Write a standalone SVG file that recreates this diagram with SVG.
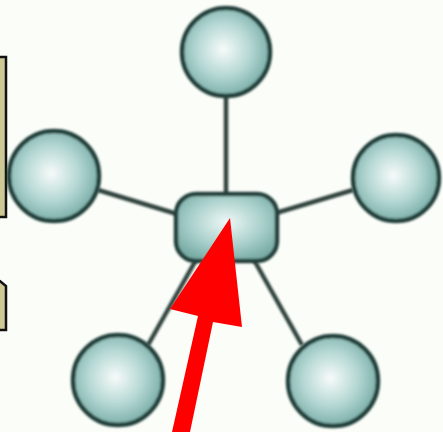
<svg xmlns="http://www.w3.org/2000/svg" width="443" height="432" viewBox="0 0 443 432">
<defs>
<radialGradient id="ball" cx="0.47" cy="0.47" r="0.55">
<stop offset="0" stop-color="#f7fbfa"/>
<stop offset="0.55" stop-color="#b5d8d4"/>
<stop offset="1" stop-color="#78aca6"/>
</radialGradient>
<radialGradient id="hub" cx="0.5" cy="0.42" r="0.6">
<stop offset="0" stop-color="#eef8f6"/>
<stop offset="0.6" stop-color="#a9d0cb"/>
<stop offset="1" stop-color="#7aaca6"/>
</radialGradient>
<filter id="soft" x="-10%" y="-10%" width="120%" height="120%"><feGaussianBlur stdDeviation="0.8"/></filter>
</defs>
<style>
.node{fill:url(#ball);stroke:#22403b;stroke-width:4.5}
.link{stroke:#33443f;stroke-width:4.5;fill:none}
.box{fill:#cdc895;stroke:#111;stroke-width:2.5}
</style>
<rect width="443" height="432" fill="#fbfdf9"/>
<g id="boxes">
<rect class="box" x="-3" y="57" width="9" height="160"/>
<path class="box" d="M-3,280 L0,281 L6,286 L6,330 L-3,330 Z"/>
</g>
<g id="connectors" filter="url(#soft)">
<line class="link" x1="226" y1="96" x2="226" y2="195"/>
<line class="link" x1="98" y1="190" x2="177" y2="214"/>
<line class="link" x1="353" y1="190" x2="276" y2="213"/>
<line class="link" x1="148" y1="345" x2="196" y2="260"/>
<line class="link" x1="302" y1="345" x2="254" y2="260"/>
</g>
<g id="hub-node" filter="url(#soft)"><rect x="176" y="194" width="101" height="67" rx="20" fill="url(#hub)" stroke="#22403b" stroke-width="4.5"/></g>
<g id="top-node" filter="url(#soft)"><circle class="node" cx="226" cy="52" r="44"/></g>
<g id="left-node" filter="url(#soft)"><circle class="node" cx="54" cy="176" r="45"/></g>
<g id="right-node" filter="url(#soft)"><circle class="node" cx="396" cy="178" r="43"/></g>
<g id="bottom-left-node" filter="url(#soft)"><circle class="node" cx="118" cy="380" r="45"/></g>
<g id="bottom-right-node" filter="url(#soft)"><circle class="node" cx="333" cy="381" r="45"/></g>
<g id="arrow"><polygon points="230,218 242,327 213,322 190,432 172,432 198,316 170,309" fill="#ff0000"/></g>
</svg>
